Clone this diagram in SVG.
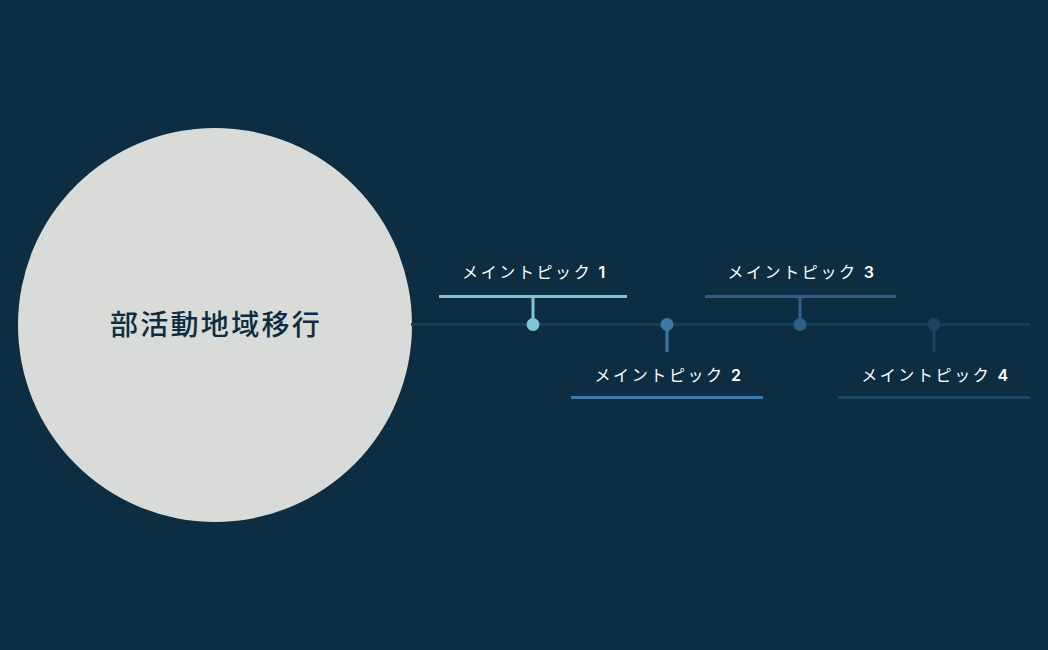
<svg xmlns="http://www.w3.org/2000/svg" width="1048" height="650" viewBox="0 0 1048 650">
<style>
.lbl{font-family:"Noto Sans CJK JP","Noto Sans",sans-serif;font-size:16px;font-weight:400;fill:#ffffff;letter-spacing:2.6px;text-anchor:middle}
.num{font-family:Inter,"Noto Sans",sans-serif;font-weight:600}
.title{font-family:"Noto Sans CJK JP","Noto Sans",sans-serif;font-size:28px;font-weight:500;fill:#0d2e42;letter-spacing:2.3px;text-anchor:middle}
.bar{stroke-width:3;fill:none}
</style>
<rect width="1048" height="650" fill="#0d2e42"/>
<g id="center">
<circle cx="215" cy="325" r="197" fill="#d8dbd7"/>
<text class="title" x="216" y="335">部活動地域移行</text>
</g>
<g id="connectors">
<line x1="411" y1="324.5" x2="1030" y2="324.5" stroke="#173e58" stroke-width="3"/>
<line x1="533" y1="297" x2="533" y2="324" stroke="#7ec4d8" stroke-width="3"/>
<line x1="667" y1="325" x2="667" y2="352" stroke="#3a7aa8" stroke-width="3"/>
<line x1="800" y1="297" x2="800" y2="324" stroke="#2e5f8a" stroke-width="3"/>
<line x1="934" y1="325" x2="934" y2="352" stroke="#1b4560" stroke-width="3"/>
</g>
<g id="topic1">
<line class="bar" x1="439" y1="296.5" x2="627" y2="296.5" stroke="#7ec4d8"/>
<circle cx="533" cy="324.5" r="6.5" fill="#7ec4d8"/>
<text class="lbl" x="535" y="278">メイントピック <tspan class="num">1</tspan></text>
</g>
<g id="topic2">
<line class="bar" x1="571" y1="397.5" x2="763" y2="397.5" stroke="#3a7aa8"/>
<circle cx="667" cy="324.5" r="6.5" fill="#3a7aa8"/>
<text class="lbl" x="669" y="381">メイントピック <tspan class="num">2</tspan></text>
</g>
<g id="topic3">
<line class="bar" x1="705" y1="296.5" x2="896" y2="296.5" stroke="#2e5f8a"/>
<circle cx="800" cy="324.5" r="6.5" fill="#2e5f8a"/>
<text class="lbl" x="802" y="278">メイントピック <tspan class="num">3</tspan></text>
</g>
<g id="topic4">
<line class="bar" x1="838" y1="397.5" x2="1030" y2="397.5" stroke="#1c4662"/>
<circle cx="934" cy="324.5" r="6.5" fill="#1b4560"/>
<text class="lbl" x="936" y="381">メイントピック <tspan class="num">4</tspan></text>
</g>
</svg>
